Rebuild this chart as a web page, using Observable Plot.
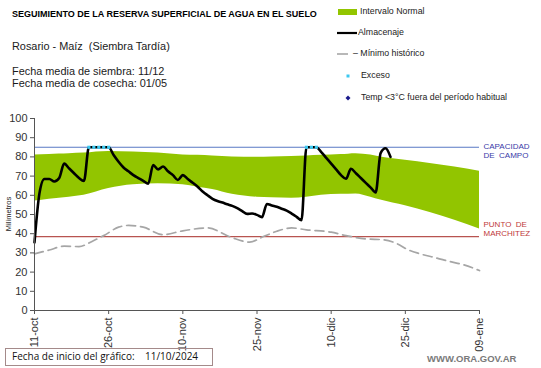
<!DOCTYPE html>
<html>
<head>
<meta charset="utf-8">
<script src="https://cdn.jsdelivr.net/npm/d3@7"></script>
<script src="https://cdn.jsdelivr.net/npm/@observablehq/plot@0.6"></script>
<style>
  html, body { margin: 0; padding: 0; background: #fff; }
  #wrap { position: relative; width: 541px; height: 368px; overflow: hidden; font-family: Arial, "Liberation Sans", sans-serif; }
  #chart { position: absolute; left: 0; top: 0; }
  .abs { position: absolute; white-space: nowrap; line-height: 1; }
  .title { left: 12px; top: 10px; font-weight: bold; font-size: 9px; color: #000; }
  .sub { left: 12px; font-size: 10.9px; color: #1a1a1a; }
  .leg { font-size: 8.8px; color: #222; }
  .box { left: 5px; top: 348px; width: 208px; height: 18px; border: 1px solid #a48a8a; box-sizing: border-box; font-family: "Open Sans", Lato, sans-serif; font-size: 10px; color: #111; }
  .web { left: 427px; top: 354px; font-size: 9.5px; font-weight: bold; color: #7a7a7a; }
  .ylab { left: 9px; top: 214px; font-size: 7.5px; color: #222; transform: translate(-50%, -50%) rotate(-90deg); }
</style>
</head>
<body>
<div id="wrap">
  <div id="chart"></div>
  <div class="abs title">SEGUIMIENTO DE LA RESERVA SUPERFICIAL DE AGUA EN EL SUELO</div>
  <div class="abs sub" style="top:40.5px">Rosario - Maíz&nbsp; (Siembra Tardía)</div>
  <div class="abs sub" style="top:65.5px">Fecha media de siembra: 11/12</div>
  <div class="abs sub" style="top:77.5px">Fecha media de cosecha: 01/05</div>
  <div class="abs ylab">Milímetros</div>
  <div class="abs box"><span style="position:absolute;left:6px;top:2px">Fecha de inicio del gráfico:</span><span style="position:absolute;left:139px;top:2px">11/10/2024</span></div>
  <div class="abs web">WWW.ORA.GOV.AR</div>
  <div id="legend"></div>
</div>
<script>
// ---- DATA ----
const startDate = "2024-10-11";
// days since start (11-oct)
const xTickDays = [0, 15, 30, 45, 60, 75, 90];
const xTickLabels = ["11-oct", "26-oct", "10-nov", "25-nov", "10-dic", "25-dic", "09-ene"];
const yTicks = [0, 10, 20, 30, 40, 50, 60, 70, 80, 90, 100];

const capacidadCampo = 85;
const puntoMarchitez = 38.5;

// Intervalo Normal (band)
const bandDays  = [0, 3, 5, 7, 10, 15, 20, 25, 30, 33, 36, 40, 45, 48, 52, 55, 58, 62, 65, 68, 70, 75, 80, 85, 90];
const bandUpper = [81, 81.3, 81.5, 81.7, 82, 82.8, 82.5, 82, 81, 80.8, 80.5, 80, 79.8, 80, 80.2, 80.5, 80.8, 81.2, 81.7, 81, 80, 78.3, 76.6, 74.8, 72.5];
const bandLower = [57, 58, 58.5, 59, 60, 63.5, 65.5, 66, 65.5, 64.2, 63, 60.5, 59, 58.7, 58.5, 59, 60, 60.5, 60.7, 59, 57.5, 54.5, 51, 47, 42.5];

// Almacenaje (daily, from 11-oct)
const almacenaje = [
  35.5, 61, 68.5, 68.5, 67.2, 69, 76.5, 74, 71.5, 69,
  67.5, 85, 85, 85, 85, 85, 81, 77.5, 74.5, 72.5,
  70.5, 69, 67.5, 66, 75.8, 73.5, 75, 72.5, 70.5, 68,
  70.5, 68.5, 66.5, 64.5, 62, 60, 58.2, 57, 56.2, 55.3,
  54.5, 53.3, 51.8, 50.3, 50.5, 49.8, 48.6, 55.5, 54.7, 54,
  53, 52, 50.5, 48.8, 47, 85, 85, 85, 82.5, 79.5,
  76.5, 73.5, 70.5, 68.6, 73.8, 71.5, 69, 66.5, 64, 61.5,
  82, 84.5, 80
];

// Mínimo histórico
const minDays   = [0, 3, 6, 9, 12, 14, 17, 19, 22, 26, 30, 35, 39.7, 43.5, 46.3, 49, 52, 55, 60, 63, 67, 70.6, 73.4, 75.4, 78, 81.4, 84, 86.8, 90];
const minValues = [29.5, 31.5, 33.5, 33.3, 36.5, 39, 43.4, 44.3, 43.4, 39.5, 41.5, 43, 38.2, 35.6, 38.5, 41.3, 43, 42, 40.8, 39, 37.3, 36.8, 34.7, 31.8, 29.5, 27.3, 25.5, 23.8, 20.8];

// Exceso (days with excess, at field capacity)
const excesoDays = [11, 12, 13, 14, 15, 55, 56, 57];
// ---- END DATA ----

const t0 = new Date(startDate + "T00:00:00Z");
const dayToDate = d => new Date(t0.getTime() + d * 86400000);

const bandData = bandDays.map((d, i) => ({date: dayToDate(d), lo: bandLower[i], hi: bandUpper[i]}));
const almData = almacenaje.map((v, i) => ({date: dayToDate(i), v}));
const minData = minDays.map((d, i) => ({date: dayToDate(d), v: minValues[i]}));
const excData = excesoDays.map(d => ({date: dayToDate(d), v: capacidadCampo}));
const tickDates = xTickDays.map(dayToDate);
const labelMap = new Map(tickDates.map((d, i) => [d.getTime(), xTickLabels[i]]));
const xEnd = tickDates[tickDates.length - 1];

const chart = Plot.plot({
  width: 541,
  height: 368,
  marginLeft: 34,
  marginRight: 62,
  marginTop: 118,
  marginBottom: 58,
  style: {fontFamily: "Arial, 'Liberation Sans', sans-serif", background: "transparent", overflow: "visible"},
  x: {type: "utc", domain: [t0, xEnd]},
  y: {domain: [0, 100]},
  marks: [
    Plot.areaY(bandData, {x: "date", y1: "lo", y2: "hi", fill: "#92c500", curve: "monotone-x"}),
    Plot.ruleY([capacidadCampo], {stroke: "#5878c4", strokeWidth: 1.1}),
    Plot.ruleY([puntoMarchitez], {stroke: "#b85450", strokeWidth: 1.1}),
    Plot.line(minData, {x: "date", y: "v", stroke: "#a6a6a6", strokeWidth: 1.7, strokeDasharray: "9,5", curve: "monotone-x"}),
    Plot.line(almData, {x: "date", y: "v", stroke: "#000", strokeWidth: 2.6, curve: "monotone-x"}),
    Plot.dot(excData, {x: "date", y: "v", fill: "#3cc8f0", r: 1.8, symbol: "square"}),
    Plot.text([{x: xEnd, y: capacidadCampo, t: "CAPACIDAD\nDE  CAMPO"}],
      {x: "x", y: "y", text: "t", textAnchor: "start", dx: 4, dy: 3, lineAnchor: "middle", lineHeight: 1.15, fontSize: 8, fill: "#3a3aa8"}),
    Plot.text([{x: xEnd, y: puntoMarchitez, t: "PUNTO  DE\nMARCHITEZ"}],
      {x: "x", y: "y", text: "t", textAnchor: "start", dx: 4, dy: -8, lineAnchor: "middle", lineHeight: 1.15, fontSize: 8, fill: "#c03a3a"}),
    Plot.ruleX([t0], {stroke: "#555", strokeWidth: 1}),
    Plot.ruleY([0], {stroke: "#555", strokeWidth: 1}),
    Plot.axisY({ticks: yTicks, tickSize: 4, tickPadding: 3, fontSize: 11, label: null, stroke: "#555", color: "#333"}),
    Plot.axisX({ticks: tickDates, tickSize: 4, tickPadding: 3, tickRotate: -90, fontSize: 11, label: null,
      tickFormat: d => labelMap.get(d.getTime()), stroke: "#555", color: "#333"})
  ]
});
document.getElementById("chart").appendChild(chart);

// Legend (HTML + small inline SVG swatches)
const legendItems = [
  {y: 12, label: "Intervalo Normal", tx: 360, sw: `<rect x="338" y="9" width="19" height="6" fill="#92c500"/>`},
  {y: 33, label: "Almacenaje", tx: 358, sw: `<line x1="337" x2="357" y1="33" y2="33" stroke="#000" stroke-width="2.2"/>`},
  {y: 54, label: "\u2013 Mínimo histórico", tx: 353, sw: `<line x1="337" x2="348" y1="54" y2="54" stroke="#a6a6a6" stroke-width="1.6"/>`},
  {y: 76, label: "Exceso", tx: 361, sw: `<rect x="346.5" y="74.5" width="3" height="3" fill="#3cc8f0"/>`},
  {y: 98, label: "Temp <3°C fuera del período habitual", tx: 361, sw: `<path d="M348 95.5 L350.5 98 L348 100.5 L345.5 98 Z" fill="#1a1a8c"/>`}
];
const legend = document.getElementById("legend");
legend.innerHTML = `<svg width="541" height="110" style="position:absolute;left:0;top:0">${legendItems.map(d => d.sw).join("")}</svg>` +
  legendItems.map(d => `<div class="abs leg" style="left:${d.tx}px;top:${d.y - 4.6}px">${d.label}</div>`).join("");
</script>
</body>
</html>
